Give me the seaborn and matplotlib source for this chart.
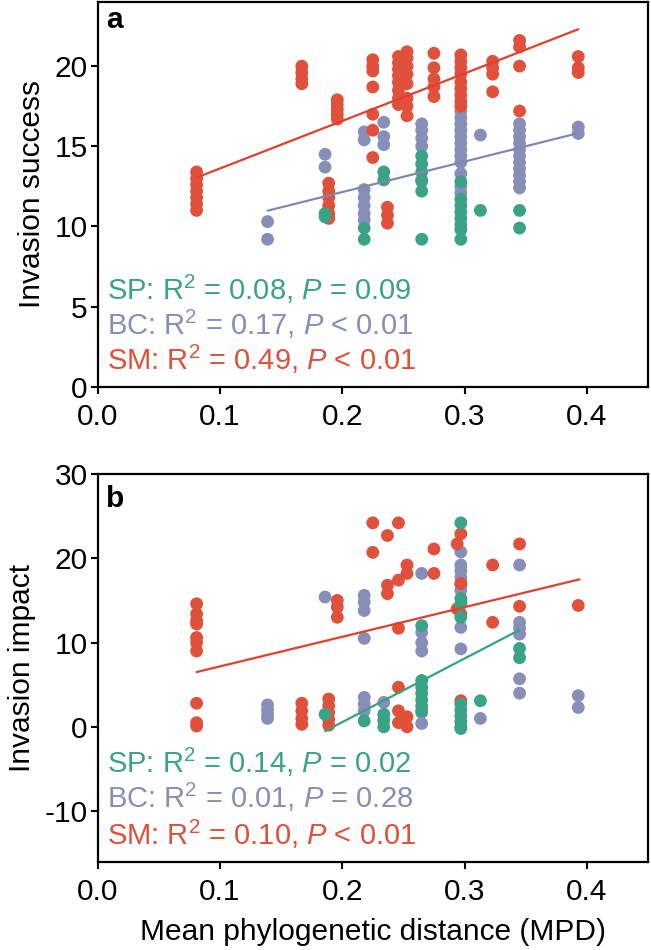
import matplotlib
matplotlib.use("Agg")
import matplotlib.pyplot as plt
import seaborn as sns
import pandas as pd

# ---------------- data ----------------
groups = ["BC", "SM", "SP"]          # drawing order (SP on top)
colors = {"SP": "#3AA387", "BC": "#878EB7", "SM": "#E0503A"}
line_colors = {"SP": "#38A085", "BC": "#8088B0", "SM": "#E2402E"}

# Panel a: invasion success, columns of points {MPD: [values]}
a_sm = {0.081: [13.4, 13.0, 12.6, 12.2, 11.8, 11.4, 11.0],
        0.167: [20.0, 19.6, 19.2, 18.9],
        0.189: [12.7, 12.2, 11.8, 11.3, 10.8, 10.5],
        0.196: [17.9, 17.6, 17.3, 17.0, 16.7],
        0.225: [20.4, 20.0, 19.7, 18.7, 17.0, 16.0, 14.3],
        0.237: [11.2, 10.7, 10.2],
        0.246: [20.6, 20.2, 19.8, 19.4, 19.0, 18.5, 18.0, 17.6],
        0.253: [20.9, 20.5, 20.0, 19.5, 18.9, 18.0, 17.5, 16.9],
        0.275: [20.8, 19.9, 19.2, 18.7, 18.1],
        0.297: [20.7, 20.3, 19.9, 19.5, 19.0, 18.6, 18.2, 17.8, 17.5],
        0.323: [20.3, 19.9, 19.5, 18.4],
        0.345: [21.6, 21.2, 20.0, 17.2],
        0.393: [20.6, 19.9, 19.6]}
a_bc = {0.139: [10.3, 9.2],
        0.186: [14.5, 13.7],
        0.218: [15.9, 15.4, 12.3, 11.8, 11.3, 10.8, 10.4],
        0.234: [16.5, 15.6, 15.1],
        0.265: [16.4, 16.0, 15.5, 15.0, 12.8],
        0.297: [17.2, 16.8, 16.4, 16.0, 15.6, 15.2, 14.8, 14.4, 14.0, 13.3, 12.5, 12.1],
        0.313: [15.7],
        0.345: [16.4, 16.0, 15.6, 15.2, 14.8, 14.4, 14.0, 13.6, 13.2, 12.8, 12.4],
        0.393: [16.2, 15.8]}
a_sp = {0.186: [10.8, 10.6],
        0.218: [9.9, 9.2],
        0.234: [13.4, 12.9],
        0.265: [14.4, 13.9, 13.4, 12.9, 12.2, 9.2],
        0.297: [12.8, 11.7, 11.3, 10.9, 10.5, 10.1, 9.8, 9.2],
        0.313: [11.0],
        0.345: [11.0, 9.9]}
# fitted lines (end points)
a_fit_group = ["SM", "SM", "BC", "BC"]
a_fit_x = [0.081, 0.393, 0.139, 0.392]
a_fit_y = [13.05, 22.3, 10.98, 15.8]
a_labels = ["SP: R$^2$ = 0.08, $\\mathit{P}$ = 0.09",
            "BC: R$^2$ = 0.17, $\\mathit{P}$ < 0.01",
            "SM: R$^2$ = 0.49, $\\mathit{P}$ < 0.01"]

# Panel b: invasion impact
b_sm = {0.081: [14.6, 13.4, 12.6, 12.2, 10.6, 10.0, 9.0, 2.8, 0.5, 0.1],
        0.167: [2.8, 1.9, 1.0, 0.3],
        0.189: [3.3, 2.5, 1.7, 0.9, 0.2],
        0.196: [15.0, 14.2, 13.0],
        0.225: [24.2, 20.7],
        0.237: [22.7, 16.8, 15.8],
        0.246: [24.2, 17.4, 11.7, 4.7, 1.9, 0.5],
        0.253: [19.2, 18.2, 1.2, 0.0],
        0.275: [21.1, 18.2],
        0.294: [21.7, 14.0],
        0.297: [22.9, 17.0, 13.4, 3.1],
        0.323: [19.2, 12.4],
        0.345: [21.7, 14.3],
        0.393: [14.4]}
b_bc = {0.139: [2.6, 2.0, 1.4, 1.0],
        0.186: [15.4],
        0.218: [15.6, 14.8, 13.8, 10.5, 3.5, 2.7, 1.9],
        0.234: [2.9],
        0.265: [18.2, 11.2, 10.0, 9.0, 1.7, 0.4],
        0.297: [20.75, 19.2, 18.5, 17.7, 16.9, 16.2, 11.8, 9.25],
        0.313: [1.0],
        0.345: [19.2, 12.4, 11.7, 11.0, 5.7, 4.0],
        0.393: [3.7, 2.3]}
b_sp = {0.186: [1.5],
        0.218: [0.7],
        0.234: [1.5, 0.8, 0.0],
        0.265: [12.0, 5.5, 4.7, 4.0, 3.2, 2.5, 1.9],
        0.297: [24.2, 15.2, 14.6, 13.0, 2.7, 2.0, 1.3, 0.6, 0.0, -0.2],
        0.313: [3.1],
        0.345: [9.3, 8.2]}
b_fit_group = ["SM", "SM", "SP", "SP"]
b_fit_x = [0.081, 0.394, 0.186, 0.345]
b_fit_y = [6.5, 17.5, -0.5, 11.5]
b_labels = ["SP: R$^2$ = 0.14, $\\mathit{P}$ = 0.02",
            "BC: R$^2$ = 0.01, $\\mathit{P}$ = 0.28",
            "SM: R$^2$ = 0.10, $\\mathit{P}$ < 0.01"]

x_ticks = [0.0, 0.1, 0.2, 0.3, 0.4]
a_yticks = [0, 5, 10, 15, 20]
b_yticks = [-10, 0, 10, 20, 30]


def to_frame(cols_by_group):
    rows = []
    for g in groups:
        for x, ys in cols_by_group[g].items():
            for y in ys:
                rows.append((g, x, y))
    return pd.DataFrame(rows, columns=["group", "mpd", "val"])


# ---------------- style ----------------
sns.set_theme(style="ticks")
plt.rcParams["font.family"] = ["Liberation Sans", "DejaVu Sans"]
plt.rcParams["mathtext.fontset"] = "custom"
plt.rcParams["mathtext.rm"] = "Liberation Sans"
plt.rcParams["mathtext.it"] = "Liberation Sans:italic"
plt.rcParams["mathtext.bf"] = "Liberation Sans:bold"
plt.rcParams["text.color"] = "black"
plt.rcParams["axes.labelcolor"] = "black"
plt.rcParams["xtick.color"] = "black"
plt.rcParams["ytick.color"] = "black"

FS = 21.5
FS_ANN = 21
fig = plt.figure(figsize=(6.51, 9.5), dpi=100)
ax_a = fig.add_axes([0.1498, 0.5929, 0.8456, 0.4050])
ax_b = fig.add_axes([0.1498, 0.0929, 0.8456, 0.4082])

panels = [
    (ax_a, {"SM": a_sm, "BC": a_bc, "SP": a_sp}, a_fit_group, a_fit_x, a_fit_y,
     a_labels, (0, 24), a_yticks, "Invasion success", "a", [0.225, 0.134, 0.043], 0.932),
    (ax_b, {"SM": b_sm, "BC": b_bc, "SP": b_sp}, b_fit_group, b_fit_x, b_fit_y,
     b_labels, (-16, 30), b_yticks, "Invasion impact", "b", [0.228, 0.138, 0.043], 0.914),
]

for ax, cols, fg, fx, fy, labels, ylim, yticks, ylabel, letter, ty, ly in panels:
    df = to_frame(cols)
    sns.scatterplot(data=df, x="mpd", y="val", hue="group", palette=colors,
                    hue_order=groups, s=85, linewidth=0, alpha=1.0,
                    legend=False, ax=ax, zorder=2)
    fit = pd.DataFrame({"group": fg, "mpd": fx, "val": fy})
    sns.lineplot(data=fit, x="mpd", y="val", hue="group", palette=line_colors,
                 linewidth=1.6, legend=False, ax=ax, zorder=3, estimator=None,
                 sort=False)
    ax.set_xlim(0, 0.45)
    ax.set_ylim(*ylim)
    ax.set_xticks(x_ticks)
    ax.set_xticklabels([f"{t:.1f}" for t in x_ticks])
    ax.set_yticks(yticks)
    ax.set_yticklabels([str(t) for t in yticks])
    ax.set_ylabel(ylabel, fontsize=FS, labelpad=6, color="black")
    ax.set_xlabel("")
    for sp in ax.spines.values():
        sp.set_linewidth(1.6)
        sp.set_color("black")
    ax.tick_params(axis="both", direction="out", length=5, width=1.5,
                   labelsize=FS, colors="black", top=False, right=False)
    ax.tick_params(axis="x", pad=7)
    ax.tick_params(axis="y", pad=2)
    for text, yy, g in zip(labels, ty, ["SP", "BC", "SM"]):
        ax.text(0.0167, yy, text, transform=ax.transAxes, color=colors[g],
                fontsize=FS_ANN, ha="left", va="baseline")
    ax.text(0.015, ly, letter, transform=ax.transAxes, fontsize=FS,
            fontweight="bold", ha="left", va="baseline", color="black")

ax_b.set_xlabel("Mean phylogenetic distance (MPD)", fontsize=FS, labelpad=8,
                color="black")

fig.savefig("out.png", dpi=100)
